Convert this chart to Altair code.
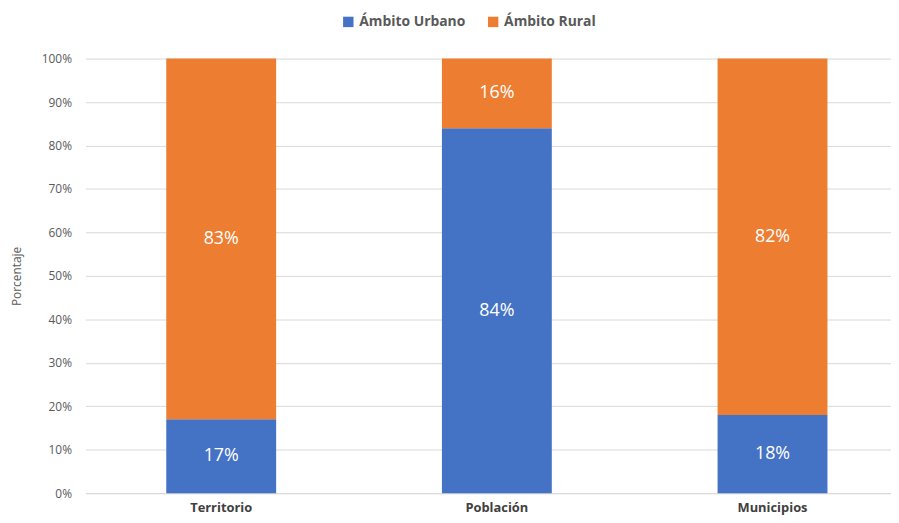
import altair as alt
import pandas as pd

categorias = ["Territorio", "Población", "Municipios"]
series = ["Ámbito Urbano", "Ámbito Rural"]
urbano = [17, 84, 18]
rural = [83, 16, 82]
colores = ["#4472C4", "#ED7D31"]

rows = []
for i, c in enumerate(categorias):
    rows.append({"cat": c, "serie": series[0], "valor": urbano[i], "orden": 0})
    rows.append({"cat": c, "serie": series[1], "valor": rural[i], "orden": 1})
df = pd.DataFrame(rows)

FONT = "Open Sans"

base = alt.Chart(df).transform_stack(
    stack="valor", groupby=["cat"], as_=["y0", "y1"], sort=[{"field": "orden", "order": "ascending"}]
).transform_calculate(mid="(datum.y0 + datum.y1) / 2", etiqueta="datum.valor + '%'")

x = alt.X(
    "cat:N",
    sort=categorias,
    title=None,
    scale=alt.Scale(paddingInner=0.6014, paddingOuter=0.262, align=0.56, round=False),
    axis=alt.Axis(
        labelAngle=0, labelFont=FONT, labelFontWeight="bold", labelFontSize=13,
        labelColor="#404040", labelPadding=8, ticks=False, domainColor="#d9d9d9",
        domainWidth=1,
    ),
)

bars = base.mark_bar().encode(
    x=x,
    y=alt.Y(
        "y0:Q",
        scale=alt.Scale(domain=[0, 100]),
        title="Porcentaje",
        axis=alt.Axis(
            values=list(range(0, 101, 10)), labelExpr="datum.value + '%'",
            labelFont=FONT, labelFontSize=12, labelColor="#595959", labelPadding=14,
            ticks=False, domain=False, gridColor="#d9d9d9", gridWidth=1,
            titleFont=FONT, titleFontSize=12, titleFontWeight="normal",
            titleColor="#595959", titlePadding=18,
        ),
    ),
    y2="y1:Q",
    color=alt.Color(
        "serie:N",
        scale=alt.Scale(domain=series, range=colores),
        sort=series,
        legend=alt.Legend(
            title=None, orient="none", direction="horizontal", legendX=258, legendY=-44,
            symbolType="square", symbolSize=110, symbolStrokeWidth=0,
            labelFont=FONT, labelFontSize=14, labelFontWeight="bold", labelColor="#595959",
            columnPadding=20,
        ),
    ),
)

text = base.mark_text(font=FONT, fontSize=18, color="white", baseline="middle").encode(
    x=alt.X("cat:N", sort=categorias),
    y="mid:Q",
    text="etiqueta:N",
)

chart = (bars + text).properties(
    width=812, height=438,
    autosize=alt.AutoSizeParams(type="none"),
    padding={"left": 78, "top": 49, "right": 0, "bottom": 21},
).configure_view(stroke=None)

chart.save("out.html", embed_options={"renderer": "svg", "actions": False})
